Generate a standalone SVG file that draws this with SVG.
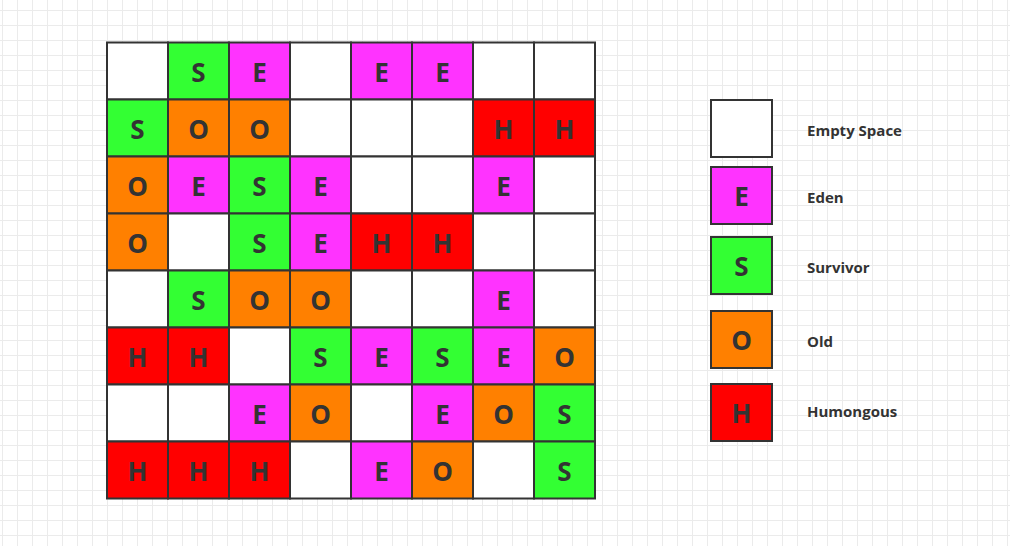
<svg xmlns="http://www.w3.org/2000/svg" width="1010" height="546" viewBox="0 0 1010 546">
<defs>
<pattern id="bg" patternUnits="userSpaceOnUse" x="2" y="10" width="15" height="15">
<path d="M0 0.5H15M0.5 0V15" stroke="#ebebeb" stroke-width="1" fill="none"/>
</pattern>
</defs>
<style>
.c{stroke:#333;stroke-width:2}
.w{fill:#ffffff}.s{fill:#33ff33}.e{fill:#ff33ff}.o{fill:#ff8000}.h{fill:#ff0000}
.t{font-family:"Open Sans","Noto Sans",sans-serif;font-weight:bold;font-size:26px;fill:#333;text-anchor:middle;dominant-baseline:central}
.l{font-family:"Open Sans","Noto Sans",sans-serif;font-weight:bold;font-size:15px;fill:#333;dominant-baseline:central}
</style>
<rect width="1010" height="546" fill="#fff"/>
<rect width="1010" height="546" fill="url(#bg)"/>
<g id="grid">
<g id="r0">
<g id="c0-0"><rect class="c w" x="107" y="42.5" width="61" height="57"/></g>
<g id="c0-1"><rect class="c s" x="168" y="42.5" width="61" height="57"/><text class="t" x="198.5" y="72">S</text></g>
<g id="c0-2"><rect class="c e" x="229" y="42.5" width="61" height="57"/><text class="t" x="259.5" y="72">E</text></g>
<g id="c0-3"><rect class="c w" x="290" y="42.5" width="61" height="57"/></g>
<g id="c0-4"><rect class="c e" x="351" y="42.5" width="61" height="57"/><text class="t" x="381.5" y="72">E</text></g>
<g id="c0-5"><rect class="c e" x="412" y="42.5" width="61" height="57"/><text class="t" x="442.5" y="72">E</text></g>
<g id="c0-6"><rect class="c w" x="473" y="42.5" width="61" height="57"/></g>
<g id="c0-7"><rect class="c w" x="534" y="42.5" width="61" height="57"/></g>
</g>
<g id="r1">
<g id="c1-0"><rect class="c s" x="107" y="99.5" width="61" height="57"/><text class="t" x="137.5" y="129">S</text></g>
<g id="c1-1"><rect class="c o" x="168" y="99.5" width="61" height="57"/><text class="t" x="198.5" y="129">O</text></g>
<g id="c1-2"><rect class="c o" x="229" y="99.5" width="61" height="57"/><text class="t" x="259.5" y="129">O</text></g>
<g id="c1-3"><rect class="c w" x="290" y="99.5" width="61" height="57"/></g>
<g id="c1-4"><rect class="c w" x="351" y="99.5" width="61" height="57"/></g>
<g id="c1-5"><rect class="c w" x="412" y="99.5" width="61" height="57"/></g>
<g id="c1-6"><rect class="c h" x="473" y="99.5" width="61" height="57"/><text class="t" x="503.5" y="129">H</text></g>
<g id="c1-7"><rect class="c h" x="534" y="99.5" width="61" height="57"/><text class="t" x="564.5" y="129">H</text></g>
</g>
<g id="r2">
<g id="c2-0"><rect class="c o" x="107" y="156.5" width="61" height="57"/><text class="t" x="137.5" y="186">O</text></g>
<g id="c2-1"><rect class="c e" x="168" y="156.5" width="61" height="57"/><text class="t" x="198.5" y="186">E</text></g>
<g id="c2-2"><rect class="c s" x="229" y="156.5" width="61" height="57"/><text class="t" x="259.5" y="186">S</text></g>
<g id="c2-3"><rect class="c e" x="290" y="156.5" width="61" height="57"/><text class="t" x="320.5" y="186">E</text></g>
<g id="c2-4"><rect class="c w" x="351" y="156.5" width="61" height="57"/></g>
<g id="c2-5"><rect class="c w" x="412" y="156.5" width="61" height="57"/></g>
<g id="c2-6"><rect class="c e" x="473" y="156.5" width="61" height="57"/><text class="t" x="503.5" y="186">E</text></g>
<g id="c2-7"><rect class="c w" x="534" y="156.5" width="61" height="57"/></g>
</g>
<g id="r3">
<g id="c3-0"><rect class="c o" x="107" y="213.5" width="61" height="57"/><text class="t" x="137.5" y="243">O</text></g>
<g id="c3-1"><rect class="c w" x="168" y="213.5" width="61" height="57"/></g>
<g id="c3-2"><rect class="c s" x="229" y="213.5" width="61" height="57"/><text class="t" x="259.5" y="243">S</text></g>
<g id="c3-3"><rect class="c e" x="290" y="213.5" width="61" height="57"/><text class="t" x="320.5" y="243">E</text></g>
<g id="c3-4"><rect class="c h" x="351" y="213.5" width="61" height="57"/><text class="t" x="381.5" y="243">H</text></g>
<g id="c3-5"><rect class="c h" x="412" y="213.5" width="61" height="57"/><text class="t" x="442.5" y="243">H</text></g>
<g id="c3-6"><rect class="c w" x="473" y="213.5" width="61" height="57"/></g>
<g id="c3-7"><rect class="c w" x="534" y="213.5" width="61" height="57"/></g>
</g>
<g id="r4">
<g id="c4-0"><rect class="c w" x="107" y="270.5" width="61" height="57"/></g>
<g id="c4-1"><rect class="c s" x="168" y="270.5" width="61" height="57"/><text class="t" x="198.5" y="300">S</text></g>
<g id="c4-2"><rect class="c o" x="229" y="270.5" width="61" height="57"/><text class="t" x="259.5" y="300">O</text></g>
<g id="c4-3"><rect class="c o" x="290" y="270.5" width="61" height="57"/><text class="t" x="320.5" y="300">O</text></g>
<g id="c4-4"><rect class="c w" x="351" y="270.5" width="61" height="57"/></g>
<g id="c4-5"><rect class="c w" x="412" y="270.5" width="61" height="57"/></g>
<g id="c4-6"><rect class="c e" x="473" y="270.5" width="61" height="57"/><text class="t" x="503.5" y="300">E</text></g>
<g id="c4-7"><rect class="c w" x="534" y="270.5" width="61" height="57"/></g>
</g>
<g id="r5">
<g id="c5-0"><rect class="c h" x="107" y="327.5" width="61" height="57"/><text class="t" x="137.5" y="357">H</text></g>
<g id="c5-1"><rect class="c h" x="168" y="327.5" width="61" height="57"/><text class="t" x="198.5" y="357">H</text></g>
<g id="c5-2"><rect class="c w" x="229" y="327.5" width="61" height="57"/></g>
<g id="c5-3"><rect class="c s" x="290" y="327.5" width="61" height="57"/><text class="t" x="320.5" y="357">S</text></g>
<g id="c5-4"><rect class="c e" x="351" y="327.5" width="61" height="57"/><text class="t" x="381.5" y="357">E</text></g>
<g id="c5-5"><rect class="c s" x="412" y="327.5" width="61" height="57"/><text class="t" x="442.5" y="357">S</text></g>
<g id="c5-6"><rect class="c e" x="473" y="327.5" width="61" height="57"/><text class="t" x="503.5" y="357">E</text></g>
<g id="c5-7"><rect class="c o" x="534" y="327.5" width="61" height="57"/><text class="t" x="564.5" y="357">O</text></g>
</g>
<g id="r6">
<g id="c6-0"><rect class="c w" x="107" y="384.5" width="61" height="57"/></g>
<g id="c6-1"><rect class="c w" x="168" y="384.5" width="61" height="57"/></g>
<g id="c6-2"><rect class="c e" x="229" y="384.5" width="61" height="57"/><text class="t" x="259.5" y="414">E</text></g>
<g id="c6-3"><rect class="c o" x="290" y="384.5" width="61" height="57"/><text class="t" x="320.5" y="414">O</text></g>
<g id="c6-4"><rect class="c w" x="351" y="384.5" width="61" height="57"/></g>
<g id="c6-5"><rect class="c e" x="412" y="384.5" width="61" height="57"/><text class="t" x="442.5" y="414">E</text></g>
<g id="c6-6"><rect class="c o" x="473" y="384.5" width="61" height="57"/><text class="t" x="503.5" y="414">O</text></g>
<g id="c6-7"><rect class="c s" x="534" y="384.5" width="61" height="57"/><text class="t" x="564.5" y="414">S</text></g>
</g>
<g id="r7">
<g id="c7-0"><rect class="c h" x="107" y="441.5" width="61" height="57"/><text class="t" x="137.5" y="471">H</text></g>
<g id="c7-1"><rect class="c h" x="168" y="441.5" width="61" height="57"/><text class="t" x="198.5" y="471">H</text></g>
<g id="c7-2"><rect class="c h" x="229" y="441.5" width="61" height="57"/><text class="t" x="259.5" y="471">H</text></g>
<g id="c7-3"><rect class="c w" x="290" y="441.5" width="61" height="57"/></g>
<g id="c7-4"><rect class="c e" x="351" y="441.5" width="61" height="57"/><text class="t" x="381.5" y="471">E</text></g>
<g id="c7-5"><rect class="c o" x="412" y="441.5" width="61" height="57"/><text class="t" x="442.5" y="471">O</text></g>
<g id="c7-6"><rect class="c w" x="473" y="441.5" width="61" height="57"/></g>
<g id="c7-7"><rect class="c s" x="534" y="441.5" width="61" height="57"/><text class="t" x="564.5" y="471">S</text></g>
</g>
</g>
<g id="legend">
<g id="leg-empty"><rect class="c w" x="711" y="100" width="61" height="57"/><text class="l" x="807" y="130">Empty Space</text></g>
<g id="leg-eden"><rect class="c e" x="711" y="167" width="61" height="57"/><text class="t" x="741.5" y="196">E</text><text class="l" x="807" y="197">Eden</text></g>
<g id="leg-survivor"><rect class="c s" x="711" y="237" width="61" height="57"/><text class="t" x="741.5" y="266">S</text><text class="l" x="807" y="267">Survivor</text></g>
<g id="leg-old"><rect class="c o" x="711" y="311" width="61" height="57"/><text class="t" x="741.5" y="340">O</text><text class="l" x="807" y="341">Old</text></g>
<g id="leg-humongous"><rect class="c h" x="711" y="384" width="61" height="57"/><text class="t" x="741.5" y="413">H</text><text class="l" x="807" y="411">Humongous</text></g>
</g>
</svg>
